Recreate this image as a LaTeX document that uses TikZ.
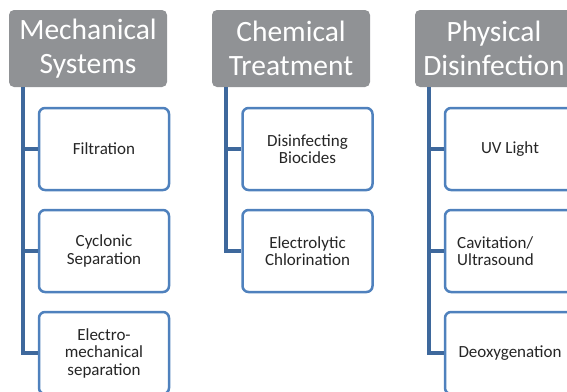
\documentclass[tikz,border=0pt]{standalone}
\usepackage{fontspec}
\setmainfont{Carlito}
\definecolor{hdrgray}{RGB}{144,146,149}
\definecolor{boxblue}{RGB}{79,129,189}
\definecolor{lineblue}{RGB}{62,104,156}
\begin{document}
\begin{tikzpicture}[x=1pt,y=-1pt,
  hdr/.style={rectangle, rounded corners=5pt, fill=hdrgray, draw=none,
    minimum width=158pt, minimum height=77pt, inner sep=0pt, text=white,
    align=center, font=\fontsize{29.5}{34}\selectfont},
  leaf/.style={rectangle, rounded corners=6pt, draw=boxblue, line width=2.5pt, fill=white,
    minimum width=130pt, minimum height=82pt, inner sep=0pt, text=black!85,
    align=center, font=\fontsize{17}{17.5}\selectfont},
  conn/.style={draw=lineblue, line width=3.5pt}]
\useasboundingbox (0,0) rectangle (567,391);
\clip (0,0) rectangle (567,391);
% headers
\node[hdr] (h1) at (88,48.5) {Mechanical\\Systems};
\node[hdr] (h2) at (291,48.5) {Chemical\\Treatment};
\node[hdr] (h3) at (494,48.5) {Physical\\Disinfection};
% leaves
\node[leaf] (b11) at (104,149) {Filtration};
\node[leaf] (b12) at (104,251) {Cyclonic\\Separation};
\node[leaf] (b13) at (104,353) {Electro-\\mechanical\\separation};
\node[leaf] (b21) at (307.5,149) {Disinfecting\\Biocides};
\node[leaf] (b22) at (307.5,251) {Electrolytic\\Chlorination};
\node[leaf] (b31) at (510,149) {UV Light};
\node[leaf] (b32) at (510,251) {};
\node[anchor=west, align=left, text=black!85, font=\fontsize{17}{17.5}\selectfont, inner sep=0pt] (t32) at (457,251) {Cavitation/\\Ultrasound};
\node[leaf] (b33) at (510,353) {Deoxygenation};
% connectors
\coordinate (v1) at ([xshift=14pt]h1.south west);
\coordinate (v2) at ([xshift=14pt]h2.south west);
\coordinate (v3) at ([xshift=14pt]h3.south west);
\draw[conn] (v1) |- (b13.west);
\draw[conn] (v1 |- b11.west) -- (b11.west);
\draw[conn] (v1 |- b12.west) -- (b12.west);
\draw[conn] (v2) |- (b22.west);
\draw[conn] (v2 |- b21.west) -- (b21.west);
\draw[conn] (v3) |- (b33.west);
\draw[conn] (v3 |- b31.west) -- (b31.west);
\draw[conn] (v3 |- b32.west) -- (b32.west);
\end{tikzpicture}
\end{document}
